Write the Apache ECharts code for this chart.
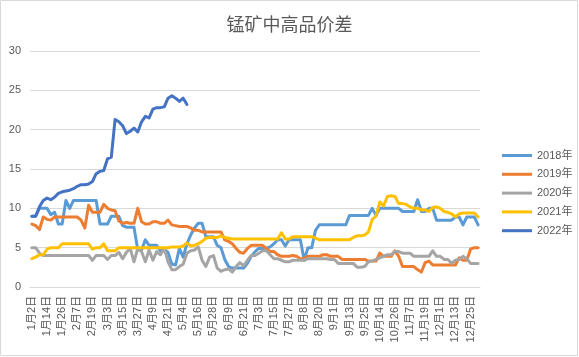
<!DOCTYPE html>
<html>
<head>
<meta charset="utf-8">
<script src="https://cdn.jsdelivr.net/npm/echarts@6/dist/echarts.min.js"></script>
<style>
html,body{margin:0;padding:0;background:#fff;}
#chart{width:579px;height:357px;}
</style>
</head>
<body>
<div id="chart"></div>
<script>
// Tick labels shown on the x axis (every 4th category)
const tickLabels = ['1月2日','1月14日','1月26日','2月7日','2月19日','3月3日','3月15日','3月27日','4月9日','4月21日',
  '5月4日','5月16日','5月28日','6月9日','6月21日','7月3日','7月15日','7月27日','8月8日','8月20日',
  '9月1日','9月13日','9月25日','10月14日','10月26日','11月7日','11月19日','12月1日','12月13日','12月25日'];
const seriesNames = ['2018年','2019年','2020年','2021年','2022年'];
const colors = ['#5B9BD5','#ED7D31','#A5A5A5','#FFC000','#4472C4'];

const s2018 = [9.0,9.0,10.0,10.0,10.0,9.2,9.5,8.0,8.0,11.0,
  10.0,11.0,11.0,11.0,11.0,11.0,11.0,11.0,8.0,8.0,
  8.0,9.0,9.0,9.0,7.8,7.6,7.6,7.6,4.7,4.7,
  6.0,5.3,5.3,5.3,4.6,4.8,4.4,2.9,2.8,4.9,
  3.8,5.5,6.6,7.5,8.1,8.1,6.4,6.4,6.4,5.3,
  5.0,3.5,2.6,2.4,2.4,2.4,2.4,3.0,3.9,4.5,
  4.9,4.9,4.9,5.1,5.5,6.0,6.0,5.2,6.0,6.0,
  6.0,6.0,3.4,5.0,5.0,7.2,7.9,7.9,7.9,7.9,
  7.9,7.9,7.9,7.9,9.1,9.1,9.1,9.1,9.1,9.1,
  10.0,9.1,10.0,10.0,10.0,10.0,10.0,10.0,9.6,9.6,
  9.6,9.6,11.1,9.6,9.6,10.0,10.0,8.5,8.5,8.5,
  8.5,8.5,8.9,8.9,7.9,8.9,8.9,8.9,7.9];
const s2019 = [8.0,7.8,7.3,8.9,8.6,8.5,8.9,8.9,8.9,8.9,
  8.9,8.9,8.9,8.5,7.5,10.4,9.5,9.5,9.5,10.5,
  10.0,9.8,9.7,8.4,8.1,8.2,8.1,8.1,10.0,8.3,
  8.0,8.0,8.3,8.3,8.1,8.1,8.5,7.9,7.8,7.7,
  7.7,7.7,7.5,7.2,7.2,7.0,7.0,7.0,7.0,7.0,
  7.0,6.0,5.8,5.5,4.9,4.4,4.3,4.9,5.3,5.3,
  5.3,5.3,4.9,4.5,4.5,4.1,3.9,3.9,3.9,4.0,
  3.9,3.6,3.6,3.9,3.9,3.9,3.9,4.1,4.1,3.9,
  3.9,3.9,3.5,3.5,3.5,3.5,3.5,3.5,3.5,3.3,
  3.3,3.3,4.3,3.9,3.9,3.9,4.6,3.9,2.6,2.6,
  2.6,2.6,2.2,1.9,3.1,3.3,2.8,2.8,2.8,2.8,
  2.8,2.8,2.8,3.7,3.4,3.4,4.8,5.0,5.0];
const s2020 = [5.0,5.0,4.3,4.0,4.0,4.0,4.0,4.0,4.0,4.0,
  4.0,4.0,4.0,4.0,4.0,4.0,3.4,4.0,4.0,4.0,
  3.5,4.0,4.0,4.4,3.6,4.4,4.9,3.2,4.9,4.5,
  3.2,4.7,3.4,4.5,4.1,4.9,3.2,2.2,2.2,2.6,
  2.9,4.3,4.6,4.7,5.1,3.4,2.6,3.8,4.0,2.4,
  2.0,2.2,2.3,1.9,2.6,3.1,2.7,3.4,4.0,4.0,
  4.3,4.6,4.6,4.1,3.6,3.6,3.4,3.2,3.2,3.4,
  3.4,3.4,3.4,3.6,3.6,3.6,3.6,3.6,3.6,3.5,
  3.5,3.0,3.0,3.0,3.0,3.0,2.5,2.5,2.6,3.2,
  3.3,3.5,3.7,3.9,4.1,4.1,4.5,4.5,4.3,4.3,
  4.3,3.9,3.9,3.9,3.9,3.9,4.6,3.9,3.9,3.5,
  3.5,3.0,3.4,3.5,3.9,3.6,3.0,3.0,3.0];
const s2021 = [3.6,3.8,4.1,4.1,4.8,5.0,5.0,5.0,5.5,5.5,
  5.5,5.5,5.5,5.5,5.5,5.5,4.8,5.0,5.0,5.5,
  4.6,4.6,4.6,5.0,5.0,5.0,5.0,5.0,5.0,5.0,
  5.0,5.0,5.0,5.0,5.0,5.0,5.0,5.1,5.1,5.1,
  5.2,5.6,5.2,5.3,5.5,5.8,6.2,6.3,6.3,6.3,
  6.5,6.3,6.2,6.1,6.1,6.1,6.1,6.1,6.1,6.1,
  6.1,6.1,6.1,6.1,6.1,6.1,6.9,6.1,6.1,6.4,
  6.4,6.4,6.4,6.4,6.4,6.2,6.0,6.0,6.0,6.0,
  6.0,6.0,6.0,6.0,6.0,6.3,6.5,6.5,6.6,7.0,
  8.6,9.0,10.8,10.3,11.5,11.6,11.5,10.6,10.6,10.5,
  10.2,10.0,10.0,9.8,9.8,9.6,10.1,10.2,10.0,9.6,
  9.5,9.3,8.9,9.3,9.4,9.4,9.4,9.4,8.9];
const s2022 = [9.0,9.0,10.2,11.0,11.3,11.1,11.4,11.9,12.1,12.2,
  12.3,12.5,12.8,13.0,13.0,13.1,13.4,14.4,14.7,14.8,
  16.3,16.5,21.3,21.0,20.5,19.5,19.8,20.2,19.7,21.0,
  21.7,21.5,22.6,22.8,22.8,22.9,24.0,24.3,24.0,23.6,
  24.0,23.2];

// Build the category list: each tick label followed by three in-between dates (3-day steps)
function parseMD(s){ const m = s.match(/(\d+)月(\d+)日/); return new Date(2022, +m[1]-1, +m[2]); }
function fmt(d){ return (d.getMonth()+1) + '月' + d.getDate() + '日'; }
const categories = [];
tickLabels.forEach((t, k) => {
  categories.push(t);
  const base = parseMD(t);
  const count = (k === tickLabels.length - 1) ? 2 : 3;
  for (let j = 1; j <= count; j++) {
    const d = new Date(base.getTime()); d.setDate(d.getDate() + 3*j);
    categories.push(fmt(d));
  }
});

const allData = [s2018, s2019, s2020, s2021, s2022];
const FONT = "'Liberation Sans','Noto Sans CJK SC',sans-serif";

const chart = echarts.init(document.getElementById('chart'), null, {renderer:'canvas'});
chart.setOption({
  animation: false,
  backgroundColor: '#ffffff',
  graphic: [{
    type: 'rect', shape: {x: 0.5, y: 0.5, width: 577, height: 355},
    style: {fill: 'none', stroke: '#d9d9d9', lineWidth: 1}, silent: true, z: -1
  }],
  title: {
    text: '锰矿中高品价差', left: 'center', top: 10,
    textStyle: {fontSize: 18, fontWeight: 'normal', color: '#595959', fontFamily: "'Noto Sans CJK SC',sans-serif"}
  },
  grid: {left: 30, right: 99, top: 51, bottom: 70, containLabel: false},
  legend: {
    orient: 'vertical', left: 497, top: 145, itemGap: 7.8,
    icon: 'rect', itemWidth: 30, itemHeight: 3,
    textStyle: {fontSize: 11, color: '#595959', fontFamily: FONT},
    data: seriesNames
  },
  xAxis: {
    type: 'category', data: categories, boundaryGap: true,
    axisLine: {show: true, lineStyle: {color: '#d9d9d9', width: 1}},
    axisTick: {show: false},
    axisLabel: {interval: 3, rotate: 90, fontSize: 11, color: '#595959', margin: 9, fontFamily: FONT},
    splitLine: {show: false}
  },
  yAxis: {
    type: 'value', min: 0, max: 30, interval: 5,
    axisLine: {show: false}, axisTick: {show: false},
    axisLabel: {fontSize: 11, color: '#595959', margin: 9, fontFamily: FONT},
    splitLine: {show: true, lineStyle: {color: '#d9d9d9', width: 1}}
  },
  series: seriesNames.map((n, k) => ({
    name: n, type: 'line', data: allData[k], showSymbol: false, symbol: 'none',
    color: colors[k],
    lineStyle: {color: colors[k], width: 3, cap: 'round', join: 'round'},
    itemStyle: {color: colors[k]},
    emphasis: {disabled: true}, z: 2 + k
  }))
});
</script>
</body>
</html>
